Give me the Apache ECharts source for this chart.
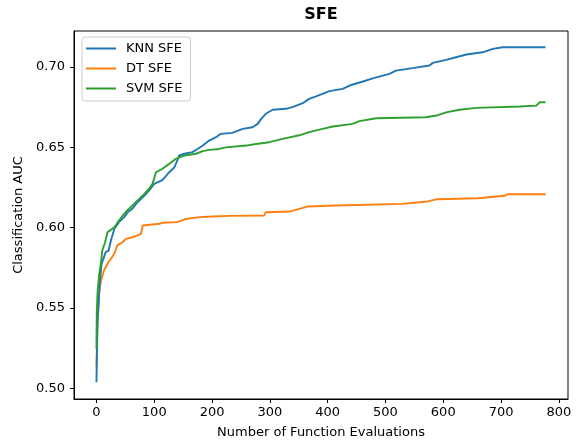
<!DOCTYPE html>
<html>
<head>
<meta charset="utf-8">
<script src="https://cdn.jsdelivr.net/npm/echarts@6/dist/echarts.min.js"></script>
<style>
  html, body { margin: 0; padding: 0; background: #fff; }
  #chart { width: 577px; height: 444px; }
</style>
</head>
<body>
<div id="chart"></div>
<script>
// values
const knnX = [0, 0.5, 1.7, 6, 9, 16, 21, 25, 31, 39, 48, 54, 62, 71, 83, 91, 100, 114, 126, 135, 140, 143, 152, 166, 175, 184, 195, 207, 215, 235, 253, 270, 279, 285, 293, 305, 328, 339, 357, 368, 380, 403, 426, 438, 461, 481, 507, 518, 547, 576, 582, 605, 622, 640, 668, 686, 703, 777];
const knnY = [0.5037, 0.515, 0.540, 0.567, 0.5775, 0.5847, 0.5857, 0.592, 0.5993, 0.6034, 0.6065, 0.6096, 0.6117, 0.6158, 0.620, 0.623, 0.6273, 0.6295, 0.6345, 0.6376, 0.6418, 0.6449, 0.646, 0.647, 0.649, 0.6511, 0.6542, 0.6563, 0.6584, 0.659, 0.6615, 0.6625, 0.6646, 0.6677, 0.6709, 0.6734, 0.674, 0.675, 0.6775, 0.6802, 0.6818, 0.6850, 0.6864, 0.6885, 0.691, 0.6933, 0.6958, 0.6978, 0.6993, 0.701, 0.7026, 0.7045, 0.7061, 0.7078, 0.7092, 0.7113, 0.7123, 0.7123];

const dtX = [0, 0.5, 2, 5, 8, 13, 19, 25, 31, 36, 45, 51, 62, 71, 77, 80, 109, 114, 140, 143, 155, 178, 201, 230, 290, 293, 334, 337, 357, 365, 415, 530, 573, 590, 660, 706, 712, 777];
const dtY = [0.513, 0.521, 0.542, 0.5608, 0.567, 0.5733, 0.5775, 0.5806, 0.5837, 0.5889, 0.5909, 0.593, 0.594, 0.5951, 0.5961, 0.6013, 0.6024, 0.6030, 0.6034, 0.6044, 0.6054, 0.6065, 0.6069, 0.6073, 0.6075, 0.6096, 0.6100, 0.611, 0.6123, 0.6131, 0.6138, 0.6148, 0.6163, 0.6177, 0.6183, 0.6198, 0.6208, 0.6208];

const svmX = [0, 0.5, 2, 5, 8, 10, 15, 19, 25, 31, 39, 48, 54, 65, 74, 83, 91, 97, 103, 114, 126, 137, 152, 172, 184, 195, 212, 224, 259, 276, 299, 322, 351, 368, 391, 409, 443, 455, 484, 570, 588, 605, 628, 657, 732, 761, 767, 777];
const svmY = [0.5245, 0.5463, 0.5608, 0.5712, 0.5785, 0.5857, 0.5909, 0.5971, 0.5986, 0.6002, 0.6044, 0.6086, 0.611, 0.6148, 0.6179, 0.621, 0.6242, 0.6273, 0.6345, 0.6366, 0.6397, 0.6428, 0.6449, 0.646, 0.6476, 0.6484, 0.649, 0.650, 0.6511, 0.6521, 0.6532, 0.6553, 0.6575, 0.6595, 0.6615, 0.663, 0.6646, 0.6663, 0.6681, 0.6687, 0.6698, 0.6718, 0.6734, 0.6746, 0.6754, 0.676, 0.6781, 0.6781];

const seriesNames = ['KNN SFE', 'DT SFE', 'SVM SFE'];
const seriesColors = ['#1f77b4', '#ff7f0e', '#2ca02c'];
const xTicks = [0, 100, 200, 300, 400, 500, 600, 700, 800];
const yTicks = [0.50, 0.55, 0.60, 0.65, 0.70];

const font = 'DejaVu Sans';

function zip(xs, ys) {
  return xs.map(function (x, i) { return [x, ys[i]]; });
}

const chart = echarts.init(document.getElementById('chart'));

const lines = [zip(knnX, knnY), zip(dtX, dtY), zip(svmX, svmY)];

chart.setOption({
  animation: false,
  backgroundColor: '#fff',
  textStyle: { fontFamily: font },
  title: {
    text: 'SFE',
    left: 321,
    top: 7,
    textAlign: 'center',
    padding: 0,
    textStyle: { fontFamily: font, fontSize: 16, fontWeight: 'bold', color: '#000' }
  },
  grid: {
    left: 74, top: 31, right: 9, bottom: 45,
    show: true, borderColor: '#000', borderWidth: 1
  },
  legend: {
    orient: 'vertical',
    left: 82, top: 37,
    padding: [4, 8, 5, 4],
    itemWidth: 35, itemHeight: 2, itemGap: 5,
    icon: 'path://M0,0H30V2H0Z M34.95,0H35V0.05H34.95Z',
    borderColor: '#cccccc', borderWidth: 1, borderRadius: 3,
    backgroundColor: 'rgba(255,255,255,0.8)',
    textStyle: { fontFamily: font, fontSize: 13, color: '#000', lineHeight: 15 },
    data: seriesNames
  },
  xAxis: {
    type: 'value',
    min: -38.85, max: 815.85,
    name: 'Number of Function Evaluations',
    nameLocation: 'middle', nameGap: 27,
    nameTextStyle: { fontFamily: font, fontSize: 13, color: '#000' },
    splitLine: { show: false },
    axisLine: { show: true, onZero: false, lineStyle: { color: '#000', width: 1 } },
    axisTick: { show: true, length: 4, customValues: xTicks, lineStyle: { color: '#000' } },
    axisLabel: {
      customValues: xTicks, margin: 7,
      fontFamily: font, fontSize: 13, color: '#000'
    }
  },
  yAxis: {
    type: 'value',
    min: 0.49324, max: 0.72246,
    name: 'Classification AUC',
    nameLocation: 'middle', nameGap: 41,
    nameTextStyle: { fontFamily: font, fontSize: 13, color: '#000' },
    splitLine: { show: false },
    axisLine: { show: true, onZero: false, lineStyle: { color: '#000', width: 1 } },
    axisTick: { show: true, length: 4, customValues: yTicks, lineStyle: { color: '#000' } },
    axisLabel: {
      customValues: yTicks, margin: 9,
      fontFamily: font, fontSize: 13, color: '#000',
      formatter: function (v) { return v.toFixed(2); }
    }
  },
  series: lines.map(function (d, i) {
    return {
      name: seriesNames[i],
      type: 'line',
      data: d,
      showSymbol: false,
      symbol: 'none',
      color: seriesColors[i],
      lineStyle: { width: 1.9, color: seriesColors[i] },
      z: i === 1 ? 2 : 3
    };
  })
});
</script>
</body>
</html>
